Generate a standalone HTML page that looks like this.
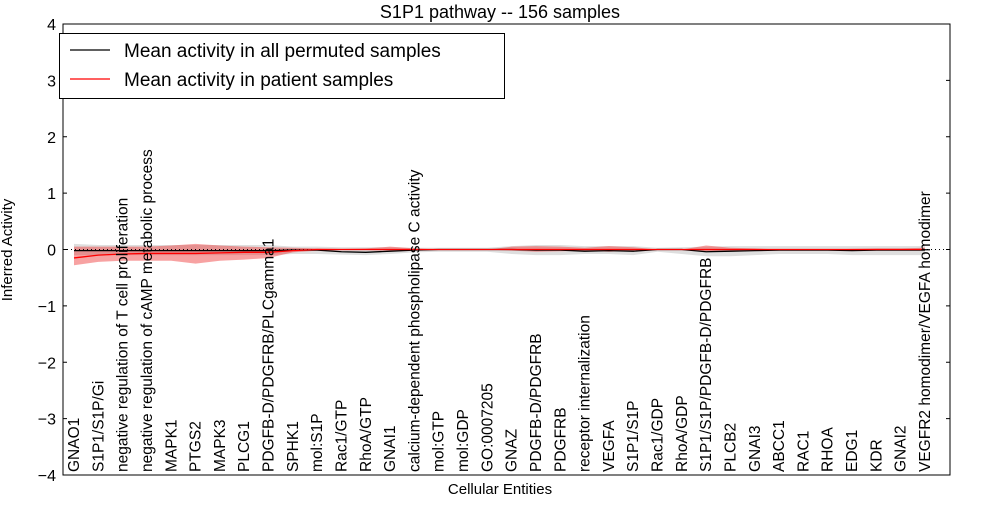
<!DOCTYPE html>
<html><head><meta charset="utf-8"><style>
body{margin:0;background:#fff;font-family:"Liberation Sans",sans-serif}
svg text{font-family:"Liberation Sans",sans-serif}
</style></head><body>
<svg id="c" width="1000" height="500" xmlns="http://www.w3.org/2000/svg"></svg>
<script>
const categories=["GNAO1","S1P1/S1P/Gi","negative regulation of T cell proliferation","negative regulation of cAMP metabolic process","MAPK1","PTGS2","MAPK3","PLCG1","PDGFB-D/PDGFRB/PLCgamma1","SPHK1","mol:S1P","Rac1/GTP","RhoA/GTP","GNAI1","calcium-dependent phospholipase C activity","mol:GTP","mol:GDP","GO:0007205","GNAZ","PDGFB-D/PDGFRB","PDGFRB","receptor internalization","VEGFA","S1P1/S1P","Rac1/GDP","RhoA/GDP","S1P1/S1P/PDGFB-D/PDGFRB","PLCB2","GNAI3","ABCC1","RAC1","RHOA","EDG1","KDR","GNAI2","VEGFR2 homodimer/VEGFA homodimer"];
const permMean=[-0.02,-0.02,-0.02,-0.02,-0.02,-0.02,-0.02,-0.02,-0.02,-0.01,-0.01,-0.04,-0.05,-0.03,-0.01,0,0,0,0,-0.01,-0.01,-0.03,-0.02,-0.03,0,0,-0.04,-0.03,-0.02,-0.01,-0.01,-0.01,-0.02,-0.01,-0.01,-0.01];
const permLo=[-0.1,-0.1,-0.1,-0.1,-0.1,-0.1,-0.1,-0.1,-0.1,-0.08,-0.08,-0.09,-0.1,-0.08,-0.05,-0.04,-0.04,-0.04,-0.08,-0.1,-0.1,-0.08,-0.08,-0.1,-0.04,-0.08,-0.12,-0.12,-0.1,-0.08,-0.08,-0.08,-0.1,-0.1,-0.1,-0.1];
const permHi=[0.1,0.08,0.08,0.08,0.08,0.08,0.08,0.08,0.08,0.05,0.05,0.04,0.04,0.04,0.03,0.03,0.03,0.03,0.06,0.08,0.08,0.06,0.06,0.06,0.03,0.04,0.05,0.06,0.06,0.06,0.06,0.06,0.06,0.06,0.06,0.06];
const patMean=[-0.15,-0.1,-0.08,-0.07,-0.07,-0.07,-0.06,-0.05,-0.05,-0.02,0,0,0,0,0,0,0,0,0,0,0,0,0,0,0,0,0,0,0,0,0,0,0,0,0,0];
const patLo=[-0.28,-0.22,-0.2,-0.2,-0.2,-0.25,-0.2,-0.18,-0.15,-0.05,-0.02,-0.01,-0.01,-0.02,0,0,0,0,-0.02,-0.04,-0.03,-0.02,-0.04,-0.02,0,0,-0.03,-0.02,-0.01,0,0,0,0,0,0,-0.01];
const patHi=[0.05,0.05,0.05,0.05,0.07,0.1,0.07,0.05,0.04,0.03,0.02,0.01,0.02,0.05,0.02,0,0,0,0.05,0.06,0.05,0.03,0.06,0.04,0,0,0.07,0.03,0.02,0,0,0,0.01,0.02,0.02,0.03];
const yTicks=[-4,-3,-2,-1,0,1,2,3,4];
const svg=document.getElementById('c');const NS='http://www.w3.org/2000/svg';
const L=63,R=950,T=24,B=475;
const xs=i=>74+i*(925-74)/(categories.length-1);
const ys=v=>T+(4-v)/8*(B-T);
function el(t,a,p){const e=document.createElementNS(NS,t);for(const k in a)e.setAttribute(k,a[k]);(p||svg).appendChild(e);return e;}
function band(lo,hi,fill,op,name){let d='M'+lo.map((v,i)=>xs(i)+','+ys(v)).join('L');for(let i=hi.length-1;i>=0;i--)d+='L'+xs(i)+','+ys(hi[i]);
const p=el('path',{d:d+'Z',fill:fill,'fill-opacity':op,stroke:'none'});

}
function line(v,col,name,w){const p=el('path',{d:'M'+v.map((y,i)=>xs(i)+','+ys(y)).join('L'),fill:'none',stroke:col,'stroke-width':w});

}
band(permLo,permHi,'#c8c8c8',0.6,'permuted-band');
band(patLo,patHi,'#ee3030',0.45,'patient-band');
const z=el('line',{x1:L,x2:R,y1:ys(0),y2:ys(0),stroke:'#000','stroke-dasharray':'1,3','stroke-width':1});


line(permMean,'#000','permuted-mean-line',1.3);
line(patMean,'#f00','patient-mean-line',1.3);
const ax=el('rect',{x:L,y:T,width:R-L,height:B-T,fill:'none',stroke:'#000','stroke-width':1});


yTicks.forEach(v=>{const y=ys(v);el('line',{x1:L,x2:L+4,y1:y,y2:y,stroke:'#000'});el('line',{x1:R-4,x2:R,y1:y,y2:y,stroke:'#000'});
const t=el('text',{x:L-7,y:y+6,'text-anchor':'end','font-size':16});t.textContent=(v<0?'\u2212'+(-v):v);

});
categories.forEach((c,i)=>{const x=xs(i);
const t=el('text',{transform:`translate(${x+5},${B-3}) rotate(-90)`,'font-size':15.5});t.textContent=c;

});
let t=el('text',{x:500,y:18,'text-anchor':'middle','font-size':18});t.textContent='S1P1 pathway -- 156 samples';


t=el('text',{x:500,y:494,'text-anchor':'middle','font-size':15});t.textContent='Cellular Entities';


t=el('text',{transform:'translate(12,250) rotate(-90)','text-anchor':'middle','font-size':15});t.textContent='Inferred Activity';


const lg=el('g',{});


el('rect',{x:59.5,y:33.5,width:445,height:65,fill:'#fff',stroke:'#000'},lg);
el('line',{x1:70,x2:110,y1:50,y2:50,stroke:'#000','stroke-width':1.3},lg);
el('line',{x1:70,x2:110,y1:79,y2:79,stroke:'#f00','stroke-width':1.3},lg);
t=el('text',{x:124,y:57,'font-size':19},lg);t.textContent='Mean activity in all permuted samples';


t=el('text',{x:124,y:86,'font-size':19},lg);t.textContent='Mean activity in patient samples';


</script>
</body></html>
